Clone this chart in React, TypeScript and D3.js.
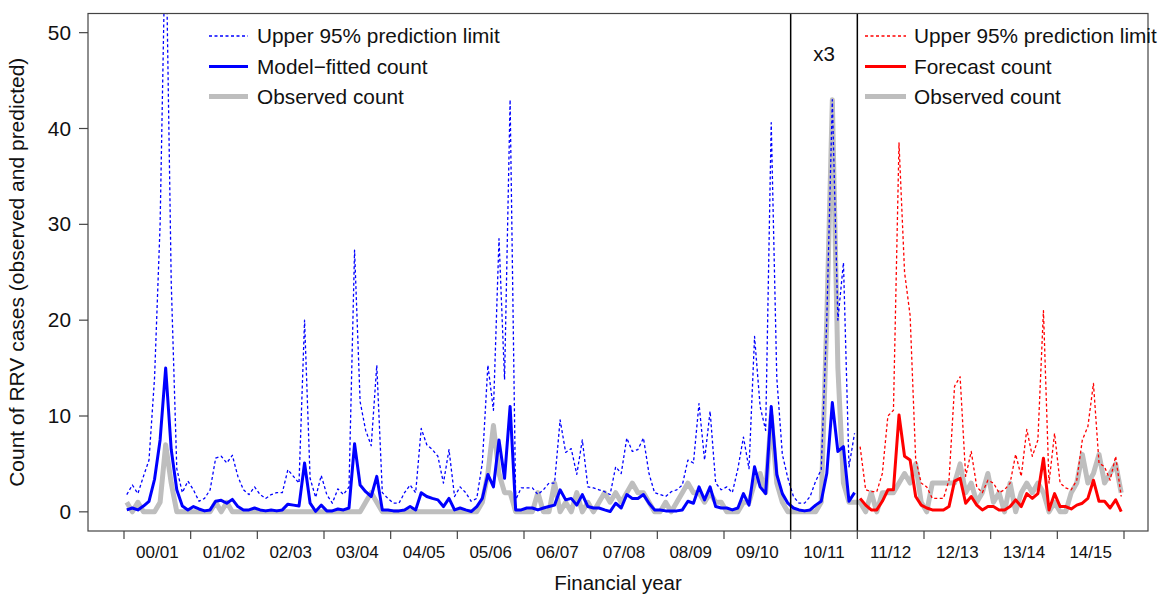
import React from "react";
import * as d3 from "d3";

// financial years, one tick interval each (12 months)
const years = ["00/01", "01/02", "02/03", "03/04", "04/05", "05/06", "06/07", "07/08",
  "08/09", "09/10", "10/11", "11/12", "12/13", "13/14", "14/15"];
const yTicks = [0, 10, 20, 30, 40, 50];

// observed monthly counts, Jul 2000 .. Jun 2015
const observed = [
  1, 0, 1, 0, 0, 0, 1, 7, 3, 0, 0, 0,
  0, 0, 0, 0, 1, 0, 1, 0, 0, 0, 0, 0,
  0, 0, 0, 0, 0, 0, 0, 0, 0, 0, 0, 0,
  0, 0, 0, 0, 0, 0, 0, 1, 2, 1, 0, 0,
  0, 0, 0, 0, 0, 0, 0, 0, 0, 0, 0, 0,
  0, 0, 0, 0, 1, 4, 9, 4, 2, 2, 0, 0,
  0, 0, 2, 0, 0, 3, 0, 1, 0, 2, 0, 1,
  0, 1, 2, 1, 2, 1, 2, 3, 2, 2, 1, 0,
  0, 1, 0, 1, 2, 3, 2, 2, 1, 2, 1, 1,
  0, 0, 0, 1, 1, 3, 4, 2, 10, 3, 1, 0,
  0, 0, 0, 0, 0, 1, 20, 43, 15, 3, 1, 1,
  1, 0, 2, 0, 2, 2, 2, 3, 4, 3, 5, 1,
  0, 3, 3, 3, 3, 3, 5, 2, 3, 1, 2, 4,
  1, 2, 0, 3, 0, 2, 3, 2, 3, 2, 0, 1,
  0, 0, 2, 3, 6, 3, 4, 6, 3, 4, 5, 2,
];

// model-fitted count, 00/01 .. 10/11
const fitted = [
  0.2, 0.4, 0.2, 0.6, 1.1, 3.4, 7.5, 15.0, 6.5, 2.3, 0.6, 0.2,
  0.55, 0.3, 0.1, 0.2, 1.1, 1.2, 0.9, 1.3, 0.55, 0.2, 0.2, 0.4,
  0.2, 0.1, 0.2, 0.1, 0.2, 0.8, 0.7, 0.6, 5.1, 0.9, 0.05, 0.7,
  0.1, 0.1, 0.3, 0.2, 0.4, 7.1, 2.8, 2.1, 1.6, 3.7, 0.2, 0.2,
  0.1, 0.1, 0.2, 0.55, 0.2, 2.0, 1.6, 1.4, 1.25, 0.55, 1.4, 0.2,
  0.4, 0.2, 0.03, 0.55, 1.4, 3.9, 2.6, 7.5, 3.5, 11.0, 0.2, 0.2,
  0.4, 0.4, 0.2, 0.4, 0.55, 0.7, 2.3, 1.25, 1.4, 0.7, 1.8, 0.55,
  0.4, 0.4, 0.2, 0.03, 0.9, 0.4, 1.8, 1.4, 1.4, 1.8, 0.9, 0.2,
  0.2, 0.1, 0.1, 0.1, 0.2, 1.1, 0.9, 2.6, 1.25, 2.6, 0.55, 0.4,
  0.4, 0.2, 0.4, 1.9, 0.7, 4.7, 2.6, 1.9, 11.0, 3.9, 1.9, 0.9,
  0.4, 0.2, 0.1, 0.2, 0.7, 1.1, 4.0, 11.4, 6.3, 6.8, 1.1, 2.0,
];

const fittedUpper = [
  1.8, 2.8, 1.9, 3.7, 5.4, 14, 30, 62, 24, 4.5, 2.0, 3.2,
  2.3, 1.1, 1.4, 2.3, 5.6, 5.8, 5.1, 5.9, 3.7, 2.3, 1.8, 2.6,
  1.8, 1.4, 1.8, 2.0, 2.0, 4.4, 3.7, 3.0, 20, 3.5, 1.5, 3.8,
  1.8, 0.9, 2.4, 1.8, 2.6, 27.3, 11.5, 8.5, 6.9, 15.3, 2.0, 1.4,
  0.9, 0.9, 2.0, 2.8, 2.0, 8.7, 7.0, 6.5, 5.8, 3.0, 6.5, 1.6,
  2.6, 2.0, 1.1, 1.4, 5.1, 15.3, 10.6, 28.5, 13.8, 43, 1.25, 2.5,
  2.5, 2.5, 1.8, 2.3, 3.0, 3.0, 9.6, 6.2, 6.6, 3.9, 7.5, 2.6,
  2.5, 2.3, 2.1, 1.8, 4.7, 4.0, 7.7, 6.3, 6.5, 7.7, 4.0, 2.0,
  1.8, 1.6, 2.1, 2.3, 2.8, 5.4, 5.1, 11.3, 5.4, 10.5, 3.0, 2.3,
  2.6, 2.0, 4.5, 7.8, 4.5, 18.3, 11, 8.5, 40.6, 14, 6, 3.5,
  1.6, 0.9, 0.9, 1.6, 3.2, 4.4, 20, 43, 20, 26, 4.7, 8.2,
];

// forecast, 11/12 .. 14/15
const forecast = [
  1.4, 0.7, 0.2, 0.2, 1.1, 2.3, 2.3, 10.1, 5.8, 5.4, 1.6, 0.7,
  0.4, 0.2, 0.2, 0.2, 0.55, 3.2, 3.5, 0.9, 1.6, 0.7, 0.2, 0.55,
  0.55, 0.2, 0.2, 0.55, 1.25, 0.55, 1.9, 1.4, 1.9, 5.6, 0.2, 1.9,
  0.55, 0.55, 0.3, 0.7, 0.9, 1.4, 3.3, 1.1, 1.1, 0.4, 1.25, 0.03,
];

const forecastUpper = [
  6.8, 2.3, 2.1, 2.1, 4.0, 10.0, 10.6, 38.5, 25, 20.5, 5.5, 3.0,
  2.6, 1.4, 1.4, 1.4, 3.3, 13.1, 14.1, 3.7, 6.3, 2.6, 2.0, 3.3,
  3.0, 2.0, 2.3, 3.0, 6.0, 3.7, 8.6, 5.8, 7.5, 21, 3.0, 8.2,
  3.0, 2.5, 2.3, 3.3, 7.5, 8.9, 13.4, 5.1, 4.7, 3.3, 5.8, 1.6,
];

const FONT = "'Liberation Sans', Arial, Helvetica, sans-serif";
const BLUE = "#0000ff";
const RED = "#ff0000";
const GREY = "#bebebe";

const W = 1162;
const H = 598;
const left = 88, right = 1148, top = 13.5, bottom = 531;

export default function App() {
  const x = d3.scaleLinear().domain([-6.48, 184.32]).range([left, right]);
  const y = d3.scaleLinear().domain([-2, 52]).range([bottom, top]);

  const line = (offset: number) =>
    d3.line<number>()
      .x((_, i) => x(i + offset + 0.5))
      .y((d) => y(d));

  const split = fitted.length; // first forecast month
  const yearTicks = d3.range(0, years.length + 1).map((k) => k * 12);

  const legendRows = [36, 66.5, 96.5];
  const legend = (x0: number, x1: number, tx: number, color: string, label: string) => (
    <g>
      <line x1={x0} x2={x1} y1={legendRows[0]} y2={legendRows[0]} stroke={color} strokeWidth={1.3} strokeDasharray="3,2.5" />
      <line x1={x0} x2={x1} y1={legendRows[1]} y2={legendRows[1]} stroke={color} strokeWidth={3} />
      <line x1={x0} x2={x1} y1={legendRows[2]} y2={legendRows[2]} stroke={GREY} strokeWidth={5} />
      <text x={tx} y={legendRows[0] + 7}>Upper 95% prediction limit</text>
      <text x={tx} y={legendRows[1] + 7}>{label}</text>
      <text x={tx} y={legendRows[2] + 7}>Observed count</text>
    </g>
  );

  return (
    <svg width={W} height={H} style={{ position: "absolute", left: 0, top: 0 }}
      fontFamily={FONT} fill="#111">
      <rect width={W} height={H} fill="#fff" />
      <defs>
        <clipPath id="plotArea">
          <rect x={left} y={top} width={right - left} height={bottom - top} />
        </clipPath>
      </defs>

      <g clipPath="url(#plotArea)" fill="none" strokeLinejoin="round">
        <path d={line(0)(observed) ?? ""} stroke={GREY} strokeWidth={5} />
        <path d={line(0)(fittedUpper) ?? ""} stroke={BLUE} strokeWidth={1.3} strokeDasharray="3,2.5" />
        <path d={line(split)(forecastUpper) ?? ""} stroke={RED} strokeWidth={1.3} strokeDasharray="3,2.5" />
        <path d={line(0)(fitted) ?? ""} stroke={BLUE} strokeWidth={3} />
        <path d={line(split)(forecast) ?? ""} stroke={RED} strokeWidth={3} />
      </g>

      {/* 10/11 window */}
      {[120, 132].map((m) => (
        <line key={m} x1={x(m)} x2={x(m)} y1={top} y2={bottom} stroke="#000" strokeWidth={1.5} />
      ))}
      <text x={(x(120) + x(132)) / 2} y={61} textAnchor="middle" fontSize={20.5}>x3</text>

      <rect x={left} y={top} width={right - left} height={bottom - top} fill="none" stroke="#444" strokeWidth={1.2} />

      {/* y axis */}
      {yTicks.map((t) => (
        <g key={t}>
          <line x1={left - 9} x2={left} y1={y(t)} y2={y(t)} stroke="#444" strokeWidth={1.2} />
          <text x={left - 17} y={y(t) + 7} textAnchor="end" fontSize={20.8}>{t}</text>
        </g>
      ))}
      <text transform={`translate(24,${(top + bottom) / 2}) rotate(-90)`} textAnchor="middle" fontSize={21}>
        Count of RRV cases (observed and predicted)
      </text>

      {/* x axis */}
      {yearTicks.map((t) => (
        <line key={t} x1={x(t)} x2={x(t)} y1={bottom} y2={bottom + 8} stroke="#444" strokeWidth={1.2} />
      ))}
      {years.map((label, k) => (
        <text key={label} x={x(k * 12 + 6)} y={558} textAnchor="middle" fontSize={17}>{label}</text>
      ))}
      <text x={(left + right) / 2} y={590} textAnchor="middle" fontSize={20.5}>Financial year</text>

      <g fontSize={20.8}>
        {legend(209, 248, 257, BLUE, "Model\u2212fitted count")}
        {legend(865, 906, 914, RED, "Forecast count")}
      </g>
    </svg>
  );
}
